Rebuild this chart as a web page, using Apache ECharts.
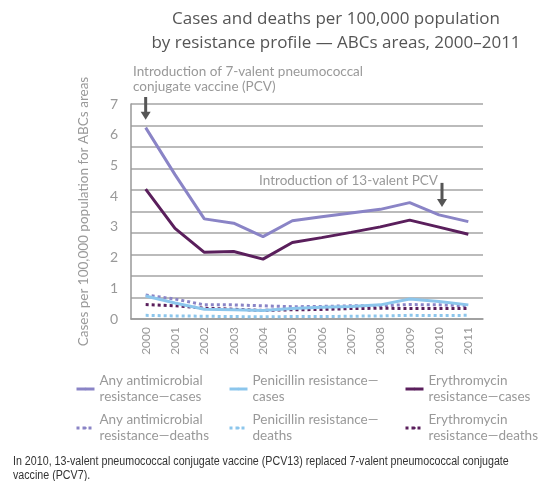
<!DOCTYPE html>
<html>
<head>
<meta charset="utf-8">
<script src="https://cdn.jsdelivr.net/npm/echarts@6/dist/echarts.min.js"></script>
<style>
  * { margin: 0; padding: 0; }
  #chart { width: 538px; height: 481px; background: #fff; }
</style>
</head>
<body>
<div id="chart"></div>
<script>
  var years = ['2000', '2001', '2002', '2003', '2004', '2005', '2006', '2007', '2008', '2009', '2010', '2011']
  var anyCases = [6.23, 4.7, 3.26, 3.12, 2.68, 3.2, 3.33, 3.45, 3.57, 3.79, 3.39, 3.17]
  var penCases = [0.75, 0.52, 0.32, 0.3, 0.28, 0.34, 0.38, 0.41, 0.46, 0.65, 0.57, 0.46]
  var eryCases = [4.23, 2.95, 2.17, 2.2, 1.95, 2.49, 2.65, 2.82, 3.0, 3.22, 2.99, 2.76]
  var anyDeaths = [0.78, 0.65, 0.46, 0.46, 0.43, 0.4, 0.41, 0.43, 0.43, 0.47, 0.46, 0.43]
  var penDeaths = [0.12, 0.1, 0.09, 0.08, 0.07, 0.08, 0.08, 0.09, 0.1, 0.12, 0.11, 0.12]
  var eryDeaths = [0.47, 0.43, 0.35, 0.32, 0.28, 0.3, 0.31, 0.34, 0.35, 0.34, 0.34, 0.34]
  var yTicks = [0, 1, 2, 3, 4, 5, 6, 7]

  var names = {
    anyC: 'Any antimicrobial\nresistance\u2014cases',
    penC: 'Penicillin resistance\u2014\ncases',
    eryC: 'Erythromycin\nresistance\u2014cases',
    anyD: 'Any antimicrobial\nresistance\u2014deaths',
    penD: 'Penicillin resistance\u2014\ndeaths',
    eryD: 'Erythromycin\nresistance\u2014deaths'
  }
  var purple = '#8a84c6'
  var blue = '#8cc6ec'
  var dark = '#5a1f5c'
  var font = 'Lato'

  var chart = echarts.init(document.getElementById('chart'), null, { renderer: 'canvas' })

  function line(name, data, color, dotted) {
    return {
      name: name,
      type: 'line',
      data: data,
      symbol: 'none',
      color: color,
      lineStyle: { color: color, width: 3, type: dotted ? [3, 3] : 'solid', cap: 'butt' },
      z: dotted ? 2 : 3
    }
  }

  function legend(left, items) {
    return {
      orient: 'vertical',
      left: left,
      top: 365,
      padding: 0,
      itemWidth: 18,
      itemHeight: 3,
      itemGap: -9,
      data: items,
      textStyle: { color: '#999', fontSize: 13.5, lineHeight: 16, fontFamily: font, padding: [16, 0, 0, 0] },
      lineStyle: { width: 3 }
    }
  }

  var option = {
    animation: false,
    title: {
      text: 'Cases and deaths per 100,000 population\nby resistance profile \u2014 ABCs areas, 2000\u20132011',
      left: 331,
      top: 2,
      textAlign: 'center',
      textStyle: { color: '#555', fontSize: 17, fontWeight: 'normal', lineHeight: 24, fontFamily: 'Open Sans' }
    },
    grid: { left: 131, right: 55, top: 104, bottom: 162 },
    legend: [
      legend(75, [names.anyC, names.anyD]),
      legend(228, [names.penC, names.penD]),
      legend(404, [names.eryC, names.eryD])
    ],
    xAxis: {
      type: 'category',
      data: years,
      boundaryGap: true,
      axisLine: { lineStyle: { color: '#999', width: 1.5 } },
      axisTick: { show: false },
      axisLabel: { rotate: 90, color: '#999', fontSize: 12, fontFamily: font, margin: 8 }
    },
    yAxis: [
      {
        type: 'value',
        position: 'left',
        min: yTicks[0],
        max: yTicks[yTicks.length - 1],
        interval: 1,
        name: 'Cases per 100,000 population for ABCs areas',
        nameLocation: 'middle',
        nameGap: 40,
        nameTextStyle: { color: '#999', fontSize: 13.5, fontFamily: font },
        axisLine: { show: true, lineStyle: { color: '#999', width: 1.5 } },
        axisTick: { show: false },
        splitLine: { show: false },
        axisLabel: { color: '#999', fontSize: 14, fontFamily: font, margin: 13 }
      },
      {
        type: 'value',
        position: 'left',
        min: yTicks[0],
        max: yTicks[yTicks.length - 1],
        interval: 0.7,
        axisLine: { show: false },
        axisTick: { show: false },
        axisLabel: { show: false },
        splitLine: { show: true, lineStyle: { color: '#a4a4a4', width: 1.5 } }
      }
    ],
    series: [
      line(names.anyD, anyDeaths, purple, true),
      line(names.penD, penDeaths, blue, true),
      line(names.eryD, eryDeaths, dark, true),
      line(names.anyC, anyCases, purple, false),
      line(names.penC, penCases, blue, false),
      line(names.eryC, eryCases, dark, false)
    ]
  }
  chart.setOption(option)

  // arrows and notes placed from the data positions
  function arrow(x, tipY, topY) {
    return [
      { type: 'rect', shape: { x: x - 1.5, y: topY, width: 3, height: tipY - topY - 7 }, style: { fill: '#555' } },
      { type: 'polygon', shape: { points: [[x - 5, tipY - 8], [x + 5, tipY - 8], [x, tipY]] }, style: { fill: '#555' } }
    ]
  }
  var p0 = chart.convertToPixel({ xAxisIndex: 0, yAxisIndex: 0 }, [years[0], anyCases[0]])
  var p10 = chart.convertToPixel({ xAxisIndex: 0, yAxisIndex: 0 }, [years[10], anyCases[10]])
  var gfx = []
  gfx = gfx.concat(arrow(p0[0], p0[1] - 8, 97))
  gfx = gfx.concat(arrow(p10[0] + 3, p10[1] - 8, p10[1] - 32))
  gfx.push({
    type: 'text', left: 133, top: 64,
    style: { text: 'Introduction of 7-valent pneumococcal\nconjugate vaccine (PCV)', fill: '#999', fontSize: 13.5, lineHeight: 15, fontFamily: font }
  })
  gfx.push({
    type: 'text', x: p10[0] - 1, y: p10[1] - 34,
    style: { text: 'Introduction of 13-valent PCV', fill: '#999', fontSize: 13.5, fontFamily: font, align: 'right', verticalAlign: 'middle', backgroundColor: '#fff' }
  })
  gfx.push({
    type: 'text', x: 13, y: 455, scaleX: 0.89,
    style: { text: 'In 2010, 13-valent pneumococcal conjugate vaccine (PCV13) replaced 7-valent pneumococcal conjugate\nvaccine (PCV7).', fill: '#333', fontSize: 12, lineHeight: 14, fontFamily: 'Liberation Sans' }
  })
  chart.setOption({ graphic: gfx })
</script>
</body>
</html>
